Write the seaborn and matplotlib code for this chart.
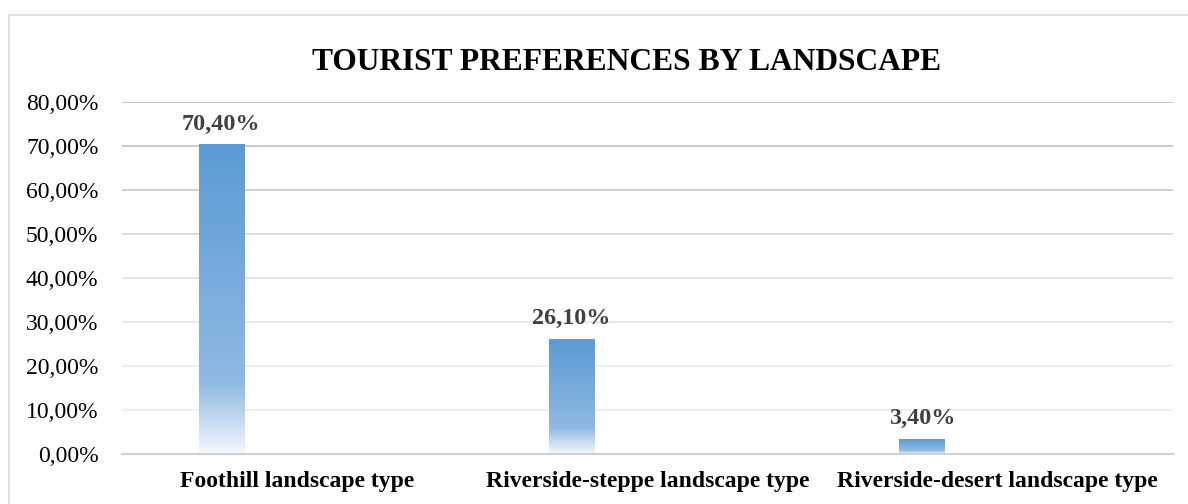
import numpy as np
import pandas as pd
import matplotlib
matplotlib.use("Agg")
import matplotlib.pyplot as plt
from matplotlib.colors import LinearSegmentedColormap
from matplotlib.patches import Rectangle
from matplotlib.ticker import FuncFormatter
import seaborn as sns

categories = ["Foothill landscape type", "Riverside-steppe landscape type", "Riverside-desert landscape type"]
values = [0.704, 0.261, 0.034]
value_labels = ["70,40%", "26,10%", "3,40%"]
title = "TOURIST PREFERENCES BY LANDSCAPE"

sns.set_theme(style="white")
plt.rcParams["font.family"] = ["Liberation Serif", "DejaVu Serif"]

fig = plt.figure(figsize=(11.88, 5.04), dpi=100)
ax = fig.add_axes([122/1188, 1-454/504, (1173-122)/1188, (454-102)/504])

df = pd.DataFrame({"cat": categories, "val": values})
sns.barplot(data=df, x="cat", y="val", ax=ax, color="#5B9BD5", width=0.8)

ax.set_ylim(0, 0.8)
ax.set_xlim(-0.5, 2.5)
ax.set_yticks(np.arange(0, 0.81, 0.1))
ax.yaxis.set_major_formatter(FuncFormatter(lambda v, p: f"{v*100:.2f}%".replace(".", ",")))
ax.grid(axis="y", color="#D9D9D9", lw=1.3)
ax.set_axisbelow(True)
grid_shades = ["#D4D4D4", "#EEEEEE", "#EDEDED", "#E8E8E8", "#E2E2E2", "#DADADA", "#CDCDCD", "#C6C6C6", "#C6C6C6"]
for gl, c in zip(ax.get_ygridlines(), grid_shades):
    gl.set_color(c)
for s in ["left", "right", "top"]:
    ax.spines[s].set_visible(False)
ax.spines["bottom"].set_color("#D0D0D0")
ax.spines["bottom"].set_linewidth(1.5)
ax.set_xlabel("")
ax.set_ylabel("")
ax.tick_params(axis="y", labelsize=17, colors="#000000", length=0, pad=17)
ax.tick_params(axis="x", labelsize=17, length=0, pad=12)
for t in ax.get_xticklabels():
    t.set_fontweight("bold")
    t.set_color("#000000")

cmap = LinearSegmentedColormap.from_list(
    "grad",
    [(0.0, "#F4F8FC"), (0.23, "#8FB9E2"), (1.0, "#5B9BD5")],
)
grad = np.linspace(0, 1, 256).reshape(-1, 1)

bar_w = 45 / 350
bar_off = -0.217
for i, p in enumerate(ax.patches):
    cx = p.get_x() + p.get_width() / 2
    p.set_width(bar_w)
    p.set_x(cx + bar_off - bar_w / 2)
    p.set_facecolor("none")
    p.set_edgecolor("none")
    x0, w, h = p.get_x(), p.get_width(), p.get_height()
    im = ax.imshow(grad, cmap=cmap, aspect="auto", origin="lower",
                   extent=[x0, x0 + w, 0, h], zorder=2)
    im.set_clip_path(p)
    ax.annotate(value_labels[i], (x0 + w / 2, h), xytext=(0, 7), textcoords="offset points",
                ha="center", va="bottom", fontsize=17.4, fontweight="bold", color="#404040")

ax.set_xlim(-0.5, 2.5)
ax.set_ylim(0, 0.8)

fig.text(627/1188, 1-62/504, title, ha="center", va="center", fontsize=22.7,
         fontweight="bold", color="#000000")

fig.patches.append(Rectangle((9/1188, -0.05), 1.1, 1-15/504+0.05, transform=fig.transFigure,
                             fill=False, edgecolor="#D9D9D9", lw=1.2))

fig.savefig("out.png", dpi=100)
